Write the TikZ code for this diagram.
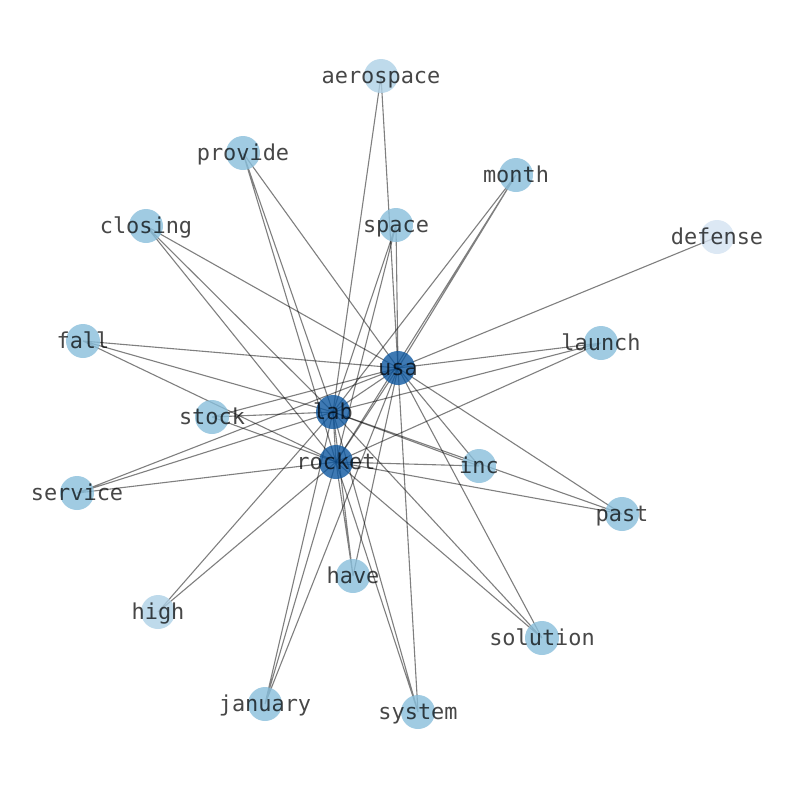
\documentclass[tikz,border=0pt]{standalone}
\usepackage{fontspec}
\newfontfamily\wordfont{DejaVu Sans Mono}
\usetikzlibrary{backgrounds}

\definecolor{hubblue}{RGB}{14,88,160}
\definecolor{leafblue}{RGB}{136,190,219}
\definecolor{paleblue}{RGB}{174,209,230}
\definecolor{faintblue}{RGB}{211,226,241}

\tikzset{
  word/.style={font=\wordfont\fontsize{21.9}{24}\selectfont, text=black, text opacity=0.72,
    inner sep=0pt, text height=16pt, text depth=2pt},
  term/.style={circle, inner sep=0pt, minimum size=34pt, fill opacity=0.8,
    label={[word]center:#1}},
  hub/.style={term=#1, fill=hubblue},
  leaf/.style={term=#1, fill=leafblue},
  pale/.style={term=#1, fill=paleblue},
  faint/.style={term=#1, fill=faintblue},
  edge/.style={draw=black, opacity=0.5, line width=1.1pt}
}

\begin{document}
\begin{tikzpicture}[x=1pt,y=-1pt]
        \useasboundingbox (0,0) rectangle (794,790);
        %% Hubs
        \node[hub=usa] (usa) at (398,368) {};
        \node[hub=lab] (lab) at (333,412) {};
        \node[hub=rocket] (rocket) at (336,462) {};
        %% Words
        \node[pale=aerospace] (aerospace) at (381,76) {};
        \node[leaf=provide] (provide) at (243,153) {};
        \node[leaf=month] (month) at (516,175) {};
        \node[leaf=closing] (closing) at (146,226) {};
        \node[leaf=space] (space) at (396,225) {};
        \node[faint=defense] (defense) at (717,237) {};
        \node[leaf=fall] (fall) at (83,341) {};
        \node[leaf=launch] (launch) at (601,343) {};
        \node[leaf=stock] (stock) at (212,417) {};
        \node[leaf=inc] (inc) at (479,466) {};
        \node[leaf=service] (service) at (77,493) {};
        \node[leaf=past] (past) at (622,514) {};
        \node[leaf=have] (have) at (353,576) {};
        \node[pale=high] (high) at (158,612) {};
        \node[leaf=solution] (solution) at (542,638) {};
        \node[leaf=january] (january) at (265,704) {};
        \node[leaf=system] (system) at (418,712) {};
        %% Links
        \begin{scope}[on background layer]
        \draw[edge] (usa.center) -- (lab.center) (usa.center) -- (rocket.center) (lab.center) -- (rocket.center);
        \draw[edge] (aerospace.center) -- (usa.center) (aerospace.center) -- (lab.center);
        \draw[edge] (provide.center) -- (usa.center) (provide.center) -- (lab.center) (provide.center) -- (rocket.center);
        \draw[edge] (month.center) -- (usa.center) (month.center) -- (lab.center) (month.center) -- (rocket.center);
        \draw[edge] (closing.center) -- (usa.center) (closing.center) -- (lab.center) (closing.center) -- (rocket.center);
        \draw[edge] (space.center) -- (usa.center) (space.center) -- (lab.center) (space.center) -- (rocket.center);
        \draw[edge] (defense.center) -- (usa.center);
        \draw[edge] (fall.center) -- (usa.center) (fall.center) -- (lab.center) (fall.center) -- (rocket.center);
        \draw[edge] (launch.center) -- (usa.center) (launch.center) -- (lab.center) (launch.center) -- (rocket.center);
        \draw[edge] (stock.center) -- (usa.center) (stock.center) -- (lab.center) (stock.center) -- (rocket.center);
        \draw[edge] (inc.center) -- (usa.center) (inc.center) -- (lab.center) (inc.center) -- (rocket.center);
        \draw[edge] (service.center) -- (usa.center) (service.center) -- (lab.center) (service.center) -- (rocket.center);
        \draw[edge] (past.center) -- (usa.center) (past.center) -- (lab.center) (past.center) -- (rocket.center);
        \draw[edge] (have.center) -- (usa.center) (have.center) -- (lab.center) (have.center) -- (rocket.center);
        \draw[edge] (high.center) -- (lab.center) (high.center) -- (rocket.center);
        \draw[edge] (solution.center) -- (usa.center) (solution.center) -- (lab.center) (solution.center) -- (rocket.center);
        \draw[edge] (january.center) -- (usa.center) (january.center) -- (lab.center) (january.center) -- (rocket.center);
        \draw[edge] (system.center) -- (usa.center) (system.center) -- (lab.center) (system.center) -- (rocket.center);
        \end{scope}
\end{tikzpicture}
\end{document}
